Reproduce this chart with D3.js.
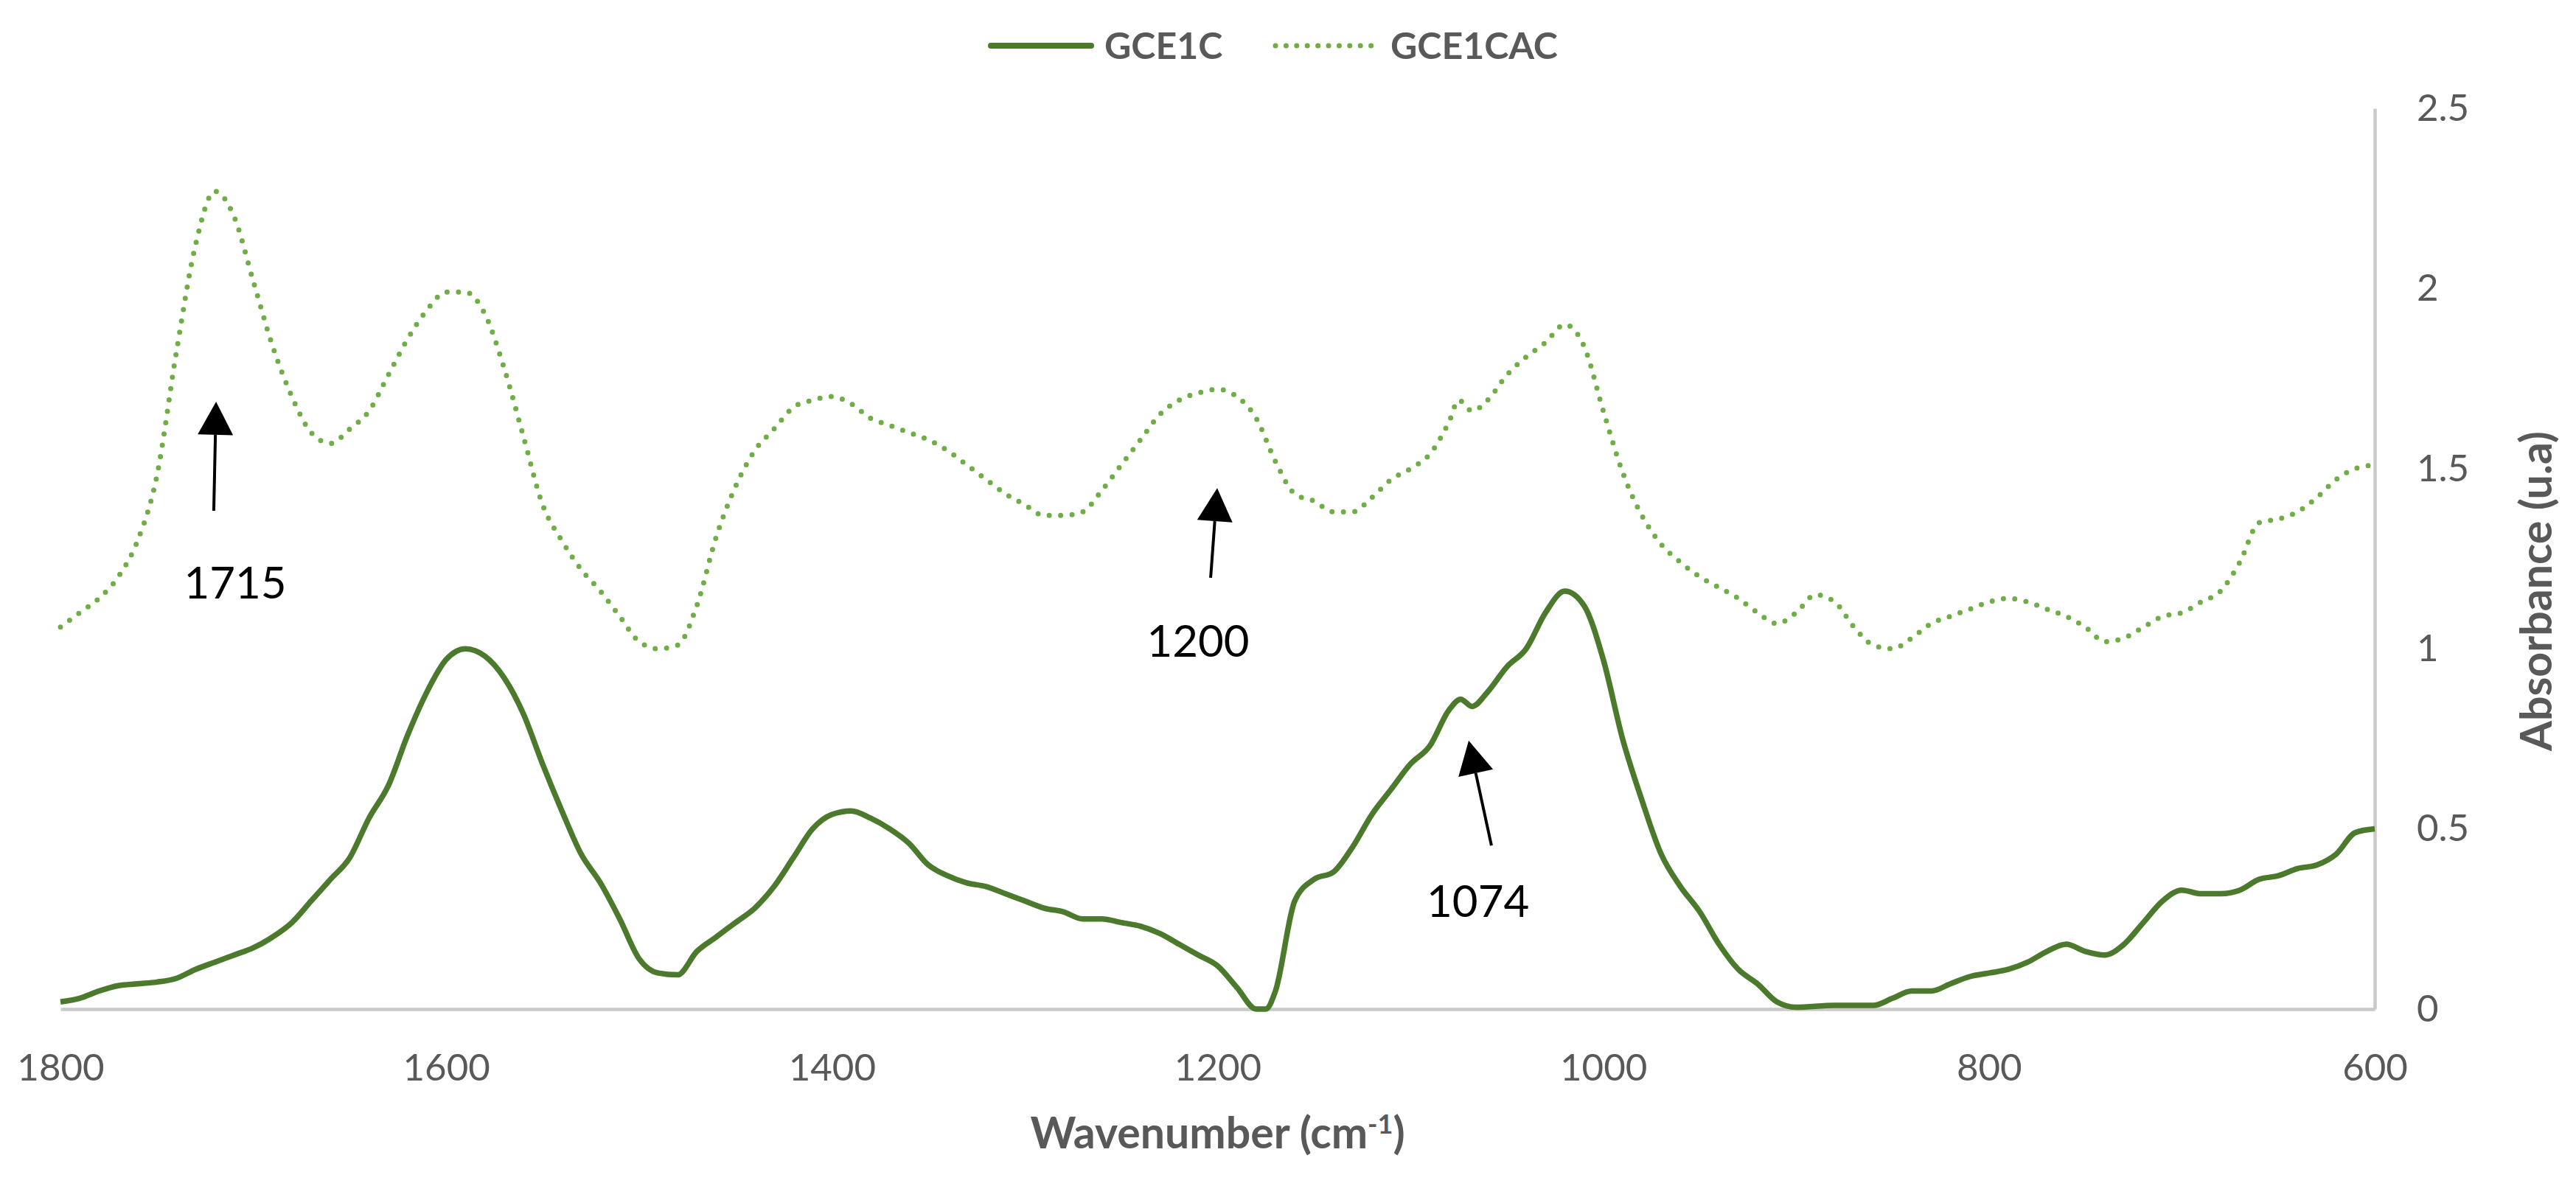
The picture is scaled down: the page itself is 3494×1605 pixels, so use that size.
<!DOCTYPE html>
<meta charset="utf-8">
<style>
body {
  margin: 0;
  background: #fff;
}
svg {
  display: block;
  font-family: "Lato", "Open Sans", sans-serif;
}
.axis path {
  stroke: #c9c9c9;
  stroke-width: 4.5px;
}
.axis text {
  font-size: 51px;
  fill: #595959;
}
.title {
  font-size: 59px;
  font-weight: bold;
  fill: #595959;
}
.legend text {
  font-size: 50px;
  font-weight: bold;
  fill: #595959;
}
.note {
  font-size: 60px;
  fill: #000;
}
</style>
<body>
<script src="https://d3js.org/d3.v7.min.js"></script>
<script>

var width = 3494,
    height = 1605;

// wavenumbers (cm-1) and absorbance
var wn1 = [1800, 1790, 1780, 1770, 1760, 1750, 1740, 1730, 1720, 1710, 1700, 1690, 1680, 1670, 1660, 1650, 1640, 1630, 1620, 1610,
  1600, 1590, 1580, 1570, 1560, 1550, 1540, 1530, 1520, 1510, 1500, 1490, 1480, 1470, 1460, 1450, 1440, 1430, 1420, 1410,
  1400, 1390, 1380, 1370, 1360, 1350, 1340, 1330, 1320, 1310, 1300, 1290, 1280, 1270, 1260, 1250, 1240, 1230, 1220, 1210,
  1200, 1190, 1180, 1175, 1170, 1160, 1150, 1140, 1130, 1120, 1110, 1100, 1090, 1080, 1074, 1068, 1060, 1050, 1040, 1030,
  1020, 1010, 1000, 990, 980, 970, 960, 950, 940, 930, 920, 910, 900, 880, 870, 860, 850, 840, 830, 820,
  810, 800, 790, 780, 770, 760, 750, 740, 730, 720, 710, 700, 690, 680, 670, 660, 650, 640, 630, 620, 610, 600];
var gce1c = [0.02, 0.03, 0.05, 0.065, 0.07, 0.075, 0.085, 0.11, 0.13, 0.15, 0.17, 0.2, 0.24, 0.3, 0.36, 0.42, 0.53, 0.62, 0.76, 0.88,
  0.97, 1.0, 0.98, 0.92, 0.82, 0.68, 0.55, 0.43, 0.35, 0.25, 0.14, 0.1, 0.095, 0.16, 0.2, 0.24, 0.28, 0.34, 0.42, 0.5,
  0.54, 0.55, 0.53, 0.5, 0.46, 0.4, 0.37, 0.35, 0.34, 0.32, 0.3, 0.28, 0.27, 0.25, 0.25, 0.24, 0.23, 0.21, 0.18, 0.15,
  0.12, 0.06, 0.0, 0.0, 0.05, 0.3, 0.36, 0.38, 0.45, 0.54, 0.61, 0.68, 0.73, 0.83, 0.86, 0.84, 0.88, 0.95, 1.0, 1.1,
  1.16, 1.12, 0.97, 0.75, 0.58, 0.43, 0.34, 0.27, 0.18, 0.11, 0.07, 0.02, 0.005, 0.01, 0.01, 0.01, 0.03, 0.05, 0.05, 0.07,
  0.09, 0.1, 0.11, 0.13, 0.16, 0.18, 0.16, 0.15, 0.18, 0.24, 0.3, 0.33, 0.32, 0.32, 0.33, 0.36, 0.37, 0.39, 0.4, 0.43, 0.49, 0.5];

var wn2 = [1800, 1790, 1780, 1770, 1760, 1750, 1740, 1730, 1720, 1710, 1700, 1690, 1680, 1670, 1660, 1650, 1640, 1630, 1620, 1610,
  1600, 1590, 1580, 1570, 1560, 1550, 1540, 1530, 1520, 1510, 1500, 1490, 1480, 1470, 1460, 1450, 1440, 1430, 1420, 1410,
  1400, 1390, 1380, 1370, 1360, 1350, 1340, 1330, 1320, 1310, 1300, 1290, 1280, 1270, 1260, 1250, 1240, 1230, 1220, 1210,
  1200, 1190, 1180, 1170, 1160, 1150, 1140, 1130, 1120, 1110, 1100, 1090, 1080, 1075, 1068, 1060, 1050, 1040, 1030, 1020,
  1010, 1000, 990, 980, 970, 960, 950, 940, 930, 920, 910, 900, 890, 880, 870, 860, 850, 840, 830, 820,
  810, 800, 790, 780, 770, 760, 750, 740, 730, 720, 710, 700, 690, 680, 670, 660, 650, 640, 630, 620, 610, 600];
var gce1cac = [1.06, 1.1, 1.14, 1.2, 1.3, 1.48, 1.82, 2.12, 2.27, 2.2, 2.02, 1.84, 1.7, 1.6, 1.57, 1.61, 1.66, 1.76, 1.86, 1.94,
  1.99, 1.99, 1.93, 1.78, 1.59, 1.4, 1.3, 1.22, 1.16, 1.09, 1.02, 1.0, 1.01, 1.12, 1.31, 1.45, 1.55, 1.61, 1.67, 1.69,
  1.7, 1.68, 1.64, 1.62, 1.6, 1.58, 1.55, 1.51, 1.47, 1.43, 1.4, 1.37, 1.37, 1.38, 1.44, 1.51, 1.58, 1.65, 1.69, 1.71,
  1.72, 1.7, 1.64, 1.52, 1.43, 1.41, 1.38, 1.38, 1.42, 1.47, 1.5, 1.54, 1.63, 1.69, 1.66, 1.69, 1.76, 1.81, 1.85, 1.9,
  1.84, 1.66, 1.49, 1.37, 1.29, 1.24, 1.2, 1.17, 1.14, 1.1, 1.07, 1.1, 1.15, 1.13, 1.06, 1.01, 1.0, 1.03, 1.07, 1.09,
  1.11, 1.13, 1.14, 1.13, 1.11, 1.09, 1.06, 1.02, 1.03, 1.06, 1.09, 1.1, 1.13, 1.16, 1.24, 1.35, 1.36, 1.38, 1.42, 1.47, 1.5, 1.51];

var seriesNames = ["GCE1C", "GCE1CAC"];
var xTicks = [1800, 1600, 1400, 1200, 1000, 800, 600];
var yTicks = [0, 0.5, 1, 1.5, 2, 2.5];

// peak arrows: label, tail [wn, abs], tip [wn, abs], label centre [wn, abs]
var noteLabels = ["1715", "1200", "1074"];
var noteTails = [[1720.5, 1.383], [1203.6, 1.197], [1058, 0.454]];
var noteTips = [[1719.3, 1.686], [1200.2, 1.446], [1069.8, 0.745]];
var noteText = [[1709.4, 1.183], [1210.1, 1.023], [1065, 0.299]];

var svg = d3.select("body").append("svg")
    .attr("width", width)
    .attr("height", height);

var x = d3.scaleLinear().domain([1800, 600]).range([82, 3221]);
var y = d3.scaleLinear().domain([0, 2.5]).range([1369, 147]);

// axes
svg.append("g")
    .attr("class", "axis")
    .attr("transform", "translate(0," + y(0) + ")")
    .call(d3.axisBottom(x).tickValues(xTicks).tickSize(0).tickPadding(61).tickFormat(d3.format("d")));

svg.append("g")
    .attr("class", "axis")
    .attr("transform", "translate(" + x(600) + ",0)")
    .call(d3.axisRight(y).tickValues(yTicks).tickSize(0).tickPadding(57).tickFormat(function(d) { return String(d); }));

svg.selectAll(".axis").attr("font-family", null).attr("font-size", null);

// lines
var line = d3.line()
    .x(function(d) { return x(d[0]); })
    .y(function(d) { return y(d[1]); })
    .curve(d3.curveMonotoneX);

var s1 = wn1.map(function(w, i) { return [w, gce1c[i]]; });
var s2 = wn2.map(function(w, i) { return [w, gce1cac[i]]; });

svg.append("path")
    .datum(s2)
    .attr("d", line)
    .attr("fill", "none")
    .attr("stroke", "#70ad47")
    .attr("stroke-width", 7)
    .attr("stroke-linecap", "round")
    .attr("stroke-dasharray", "0 15.5");

svg.append("path")
    .datum(s1)
    .attr("d", line)
    .attr("fill", "none")
    .attr("stroke", "#4b7a2d")
    .attr("stroke-width", 7.5)
    .attr("stroke-linejoin", "round");

// arrows
var notes = svg.append("g");
noteLabels.forEach(function(lab, i) {
  var x0 = x(noteTails[i][0]), y0 = y(noteTails[i][1]);
  var x1 = x(noteTips[i][0]), y1 = y(noteTips[i][1]);
  var a = Math.atan2(y1 - y0, x1 - x0);
  var hl = 45, hw = 24;
  var bx = x1 - hl * Math.cos(a), by = y1 - hl * Math.sin(a);
  notes.append("line")
      .attr("x1", x0).attr("y1", y0)
      .attr("x2", bx).attr("y2", by)
      .attr("stroke", "#000")
      .attr("stroke-width", 4);
  notes.append("polygon")
      .attr("points", [[x1, y1],
        [bx + hw * Math.sin(a), by - hw * Math.cos(a)],
        [bx - hw * Math.sin(a), by + hw * Math.cos(a)]].join(" "))
      .attr("fill", "#000");
  notes.append("text")
      .attr("class", "note")
      .attr("x", x(noteText[i][0]))
      .attr("y", y(noteText[i][1]))
      .attr("dy", "0.36em")
      .attr("text-anchor", "middle")
      .text(lab);
});

// axis titles
svg.append("text")
    .attr("class", "title")
    .attr("x", (x(1800) + x(600)) / 2)
    .attr("y", 1558)
    .attr("text-anchor", "middle")
    .html("Wavenumber (cm<tspan dy='-20' font-size='36'>-1</tspan><tspan dy='20'>)</tspan>");

svg.append("text")
    .attr("class", "title")
    .attr("transform", "translate(3440,802) rotate(-90)")
    .attr("dy", "0.36em")
    .attr("text-anchor", "middle")
    .text("Absorbance (u.a)");

// legend
var legend = svg.append("g").attr("class", "legend");
legend.append("line")
    .attr("x1", 1344).attr("x2", 1480).attr("y1", 62).attr("y2", 62)
    .attr("stroke", "#4b7a2d").attr("stroke-width", 8).attr("stroke-linecap", "round");
legend.append("text").attr("x", 1498).attr("y", 62).attr("dy", "0.36em").text(seriesNames[0]);
legend.append("line")
    .attr("x1", 1730).attr("x2", 1860).attr("y1", 62).attr("y2", 62)
    .attr("stroke", "#70ad47").attr("stroke-width", 7).attr("stroke-linecap", "round")
    .attr("stroke-dasharray", "0 14.4");
legend.append("text").attr("x", 1886).attr("y", 62).attr("dy", "0.36em").text(seriesNames[1]);

</script>
</body>
